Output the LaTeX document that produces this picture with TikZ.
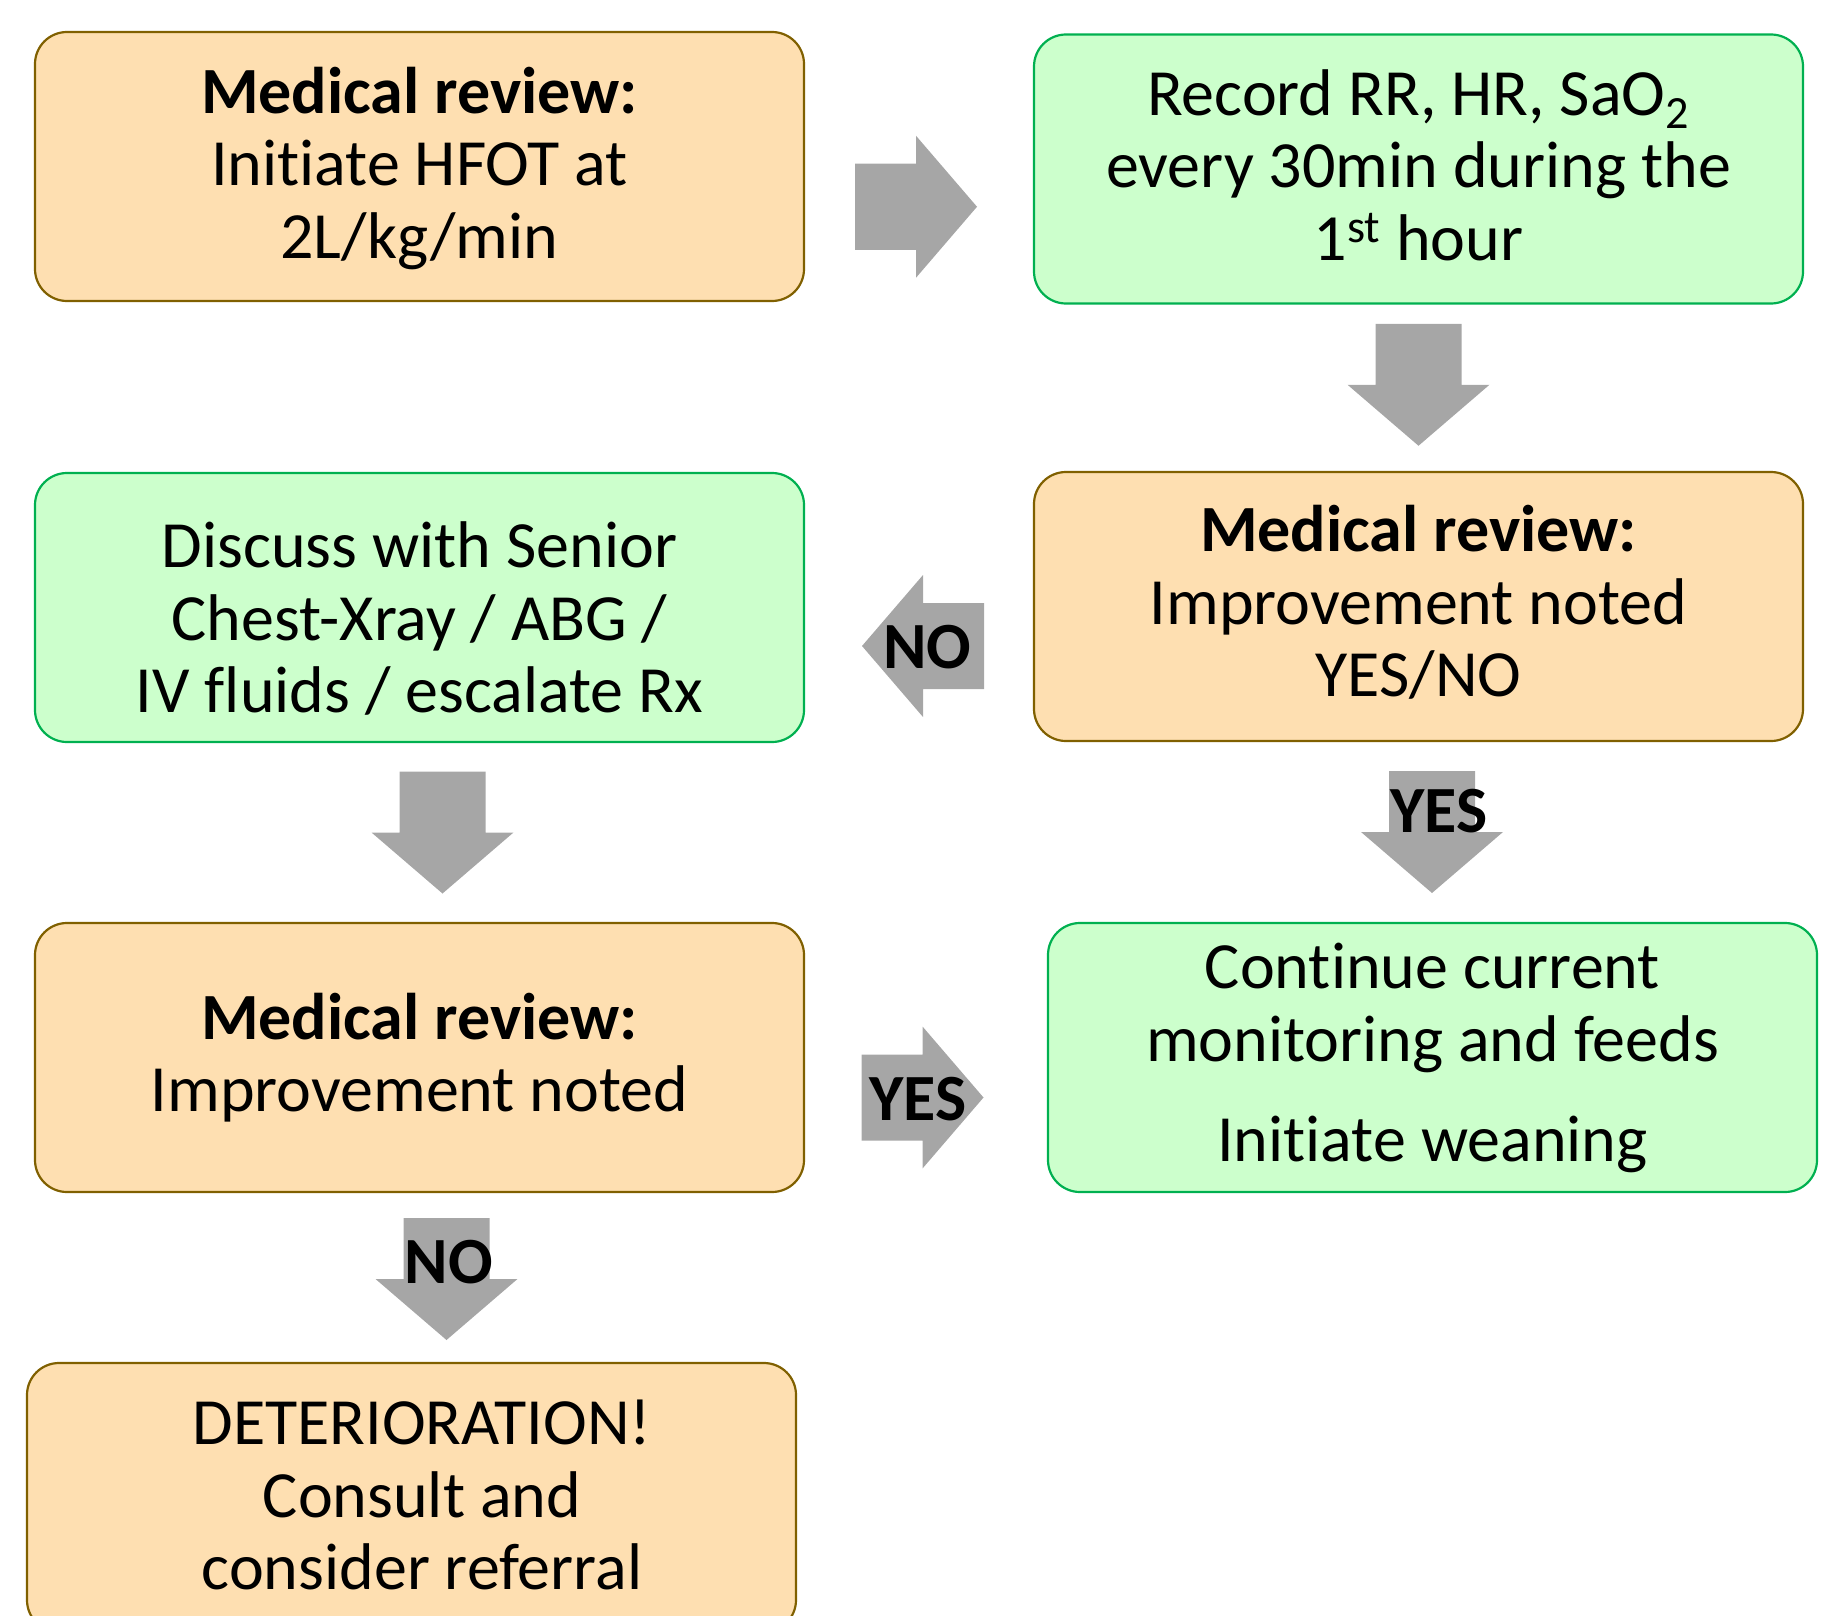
\documentclass[tikz,border=0pt]{standalone}
\usepackage{fontspec}
\setmainfont{Carlito}[Ligatures=NoCommon]
\usetikzlibrary{calc}

\definecolor{tanfill}{RGB}{254,223,177}
\definecolor{tanline}{RGB}{128,96,0}
\definecolor{mintfill}{RGB}{204,255,204}
\definecolor{mintline}{RGB}{0,176,80}
\definecolor{arrowgray}{RGB}{166,166,166}

% struts fixing where the lines sit in a box
\newcommand{\hitop}[1][27pt]{\rule{0pt}{#1}}
\newcommand{\lowdown}{\rule[-8pt]{0pt}{0pt}}
\newcommand{\nudge}{\hspace*{10.5pt}}

\tikzset{every picture/.style={line width=1.1pt}}
\tikzset{
  tanbox/.style={draw=tanline, fill=tanfill, rounded corners=16pt, minimum width=384.5pt, minimum height=134.5pt, inner sep=0pt, align=center, font=\fontsize{33}{36.25}\selectfont},
  mintbox/.style={tanbox, draw=mintline, fill=mintfill},
  arrlabel/.style={inner sep=0pt, anchor=base, font=\fontsize{33}{36.25}\selectfont\bfseries},
  pics/blockarrow/.style={code={
    \fill[arrowgray] (-61,-43) -- (0,-43) -- (0,-71) -- (61,0) -- (0,71) -- (0,43) -- (-61,43) -- cycle;
  }}
}

\begin{document}
\begin{tikzpicture}[x=0.5pt,y=0.5pt,yscale=-1]
\useasboundingbox (0,0) rectangle (1832,1616);
\clip (0,0) rectangle (1832,1616);

% Boxes
\node[tanbox] (b1) at (419.5,166.5) {\hitop\textbf{Medical review:}\\Initiate HFOT at\\2L/kg/min\lowdown};
\node[mintbox] (b2) at (1418.5,169) {\hitop Record RR, HR, SaO\textsubscript{2}\\every 30min during the\\1\textsuperscript{st} hour\lowdown};
\node[mintbox] (b3) at (419.5,607.5) {\hitop[40.5pt]Discuss with Senior\\Chest-Xray / ABG /\\IV fluids / escalate Rx\lowdown};
\node[tanbox] (b4) at (1418.5,606.5) {\hitop[25.5pt]\textbf{Medical review:}\\Improvement noted\\YES/NO\lowdown};
\node[tanbox] (b5) at (419.5,1057.5) {\hitop[26pt]\textbf{Medical review:}\\Improvement noted\lowdown};
\node[mintbox] (b6) at (1432.5,1057.5) {\hitop[25.5pt]Continue current\\monitoring and feeds\\[14pt]Initiate weaning\lowdown};
\node[tanbox] (b7) at (411.5,1497.5) {\hitop[27.5pt]\nudge DETERIORATION!\\\nudge Consult and\\\nudge consider referral\lowdown};

% Block arrows
\coordinate (a1) at ($(b1.east)!0.5!(b2.west)+(-3,39)$);
\coordinate (a2) at ($(b2.south)!0.5!(b4.north)+(0,-3)$);
\coordinate (a3) at ($(b4.west)!0.5!(b3.east)+(4,39)$);
\coordinate (a4) at ($(b4.south)!0.5!(b6.north)+(6.5,0)$);
\coordinate (a5) at ($(b3.south)!0.5!(b5.north)+(23,0)$);
\coordinate (a6) at ($(b5.east)!0.5!(b6.west)+(-3.5,40)$);
\coordinate (a7) at ($(b5.south)!0.5!(b7.north)+(31,1.5)$);

\pic at (a1) {blockarrow};
\pic[rotate=-90] at (a2) {blockarrow};
\pic[rotate=180] at (a3) {blockarrow};
\pic[rotate=-90] at (a4) {blockarrow};
\pic[rotate=-90] at (a5) {blockarrow};
\pic at (a6) {blockarrow};
\pic[rotate=-90] at (a7) {blockarrow};

% Text Node
\node[arrlabel] (no1) at ($(a3)+(4.5,22)$) {NO};
\node[arrlabel] (yes1) at ($(a4)+(7,0)$) {YES};
\node[arrlabel] (yes2) at ($(a6)+(-4.5,22.5)$) {YES};
\node[arrlabel] (no2) at ($(a7)+(2.5,4.5)$) {NO};

\end{tikzpicture}
\end{document}
